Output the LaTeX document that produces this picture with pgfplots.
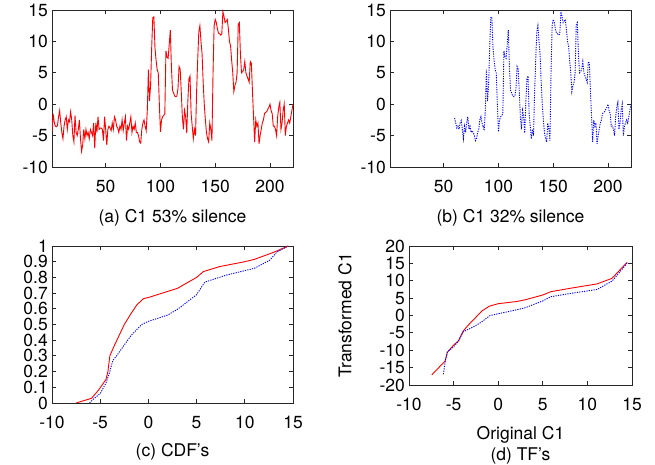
\documentclass[border=0pt]{standalone}
\usepackage{fontspec}
\setmainfont{TeX Gyre Heros}
\usepackage{pgfplots}
\usepackage{pgfplotstable}
\pgfplotsset{compat=1.18}

\pgfplotstableread{
x y
1 -4.4
2 -1.5
3 -2.8
4 -3.5
5 -3.6
6 -3.4
7 -2.0
8 -1.0
9 -3.0
10 -4.5
11 -5.5
12 -3.5
13 -2.5
14 -2.0
15 -4.0
16 -2.5
17 -2.8
18 -1.2
19 -2.5
20 -5.0
21 -6.0
22 -1.8
23 -4.5
24 -5.0
25 -4.0
26 -2.5
27 -5.5
28 -7.5
29 -6.5
30 -4.0
31 -5.5
32 -4.0
33 -5.0
34 -4.5
35 -5.5
36 -4.0
37 -4.5
38 -5.0
39 -3.0
40 -7.0
41 -3.0
42 -4.5
43 -2.0
44 -4.0
45 -3.8
46 -3.8
47 -4.0
48 -5.8
49 -2.0
50 -4.0
51 -6.5
52 -4.0
53 -3.5
54 -3.8
55 -4.2
56 -3.0
57 -4.0
58 -2.0
59 -2.5
60 -3.5
61 -3.8
62 -4.5
63 -3.5
64 -4.0
65 -2.5
66 -4.2
67 -3.0
68 -2.0
69 -5.8
70 -3.5
71 -4.0
72 -3.0
73 -2.0
74 -4.5
75 -3.5
76 -4.0
77 -3.0
78 -4.5
79 -4.5
80 -5.0
81 -6.0
82 -6.2
83 -4.0
84 -3.0
85 -2.5
86 -3.5
87 -4.2
88 -1.0
89 5.5
90 0.5
91 3.0
92 9.0
93 13.8
94 13.9
95 9.0
96 7.0
97 5.5
98 5.0
99 0.0
100 -4.4
101 -2.5
102 -2.0
103 -1.8
104 -1.5
105 8.5
106 7.5
107 7.3
108 9.5
109 11.8
110 6.0
111 2.2
112 1.8
113 1.3
114 1.2
115 1.3
116 2.5
117 6.0
118 5.6
119 2.0
120 -2.0
121 -4.0
122 -1.0
123 -2.0
124 -4.6
125 0.5
126 4.0
127 4.5
128 -1.5
129 -3.5
130 -5.5
131 -4.0
132 -5.0
133 2.0
134 7.0
135 11.5
136 12.5
137 10.0
138 8.0
139 3.5
140 0.0
141 -2.5
142 -4.5
143 -5.5
144 -6.0
145 -3.0
146 -4.0
147 -5.8
148 5.0
149 12.5
150 13.5
151 13.0
152 12.0
153 11.3
154 11.2
155 11.0
156 11.2
157 14.7
158 14.0
159 13.0
160 13.2
161 13.5
162 12.0
163 10.0
164 9.3
165 7.0
166 5.0
167 2.0
168 3.0
169 3.5
170 5.0
171 12.7
172 13.0
173 8.0
174 5.0
175 5.2
176 5.5
177 6.8
178 5.0
179 4.5
180 4.0
181 3.5
182 6.8
183 6.5
184 2.0
185 -2.0
186 -6.0
187 -2.5
188 -3.5
189 -3.0
190 -6.3
191 -5.0
192 -4.0
193 -3.0
194 -2.5
195 -1.5
196 -1.3
197 -1.2
198 -0.8
199 -0.5
200 0.0
201 -1.0
202 -1.5
203 -3.5
204 -3.5
205 -4.0
206 -5.0
207 -2.0
208 -0.5
209 0.3
210 -4.0
211 -3.0
212 -1.0
213 0.0
214 -5.0
215 -3.5
216 -3.0
217 -2.5
218 -3.0
219 -2.0
220 -1.0
221 0.0
}\dataA

\pgfplotstableread{
x y
60 -2.2
61 -3.0
62 -3.8
63 -3.5
64 -4.0
65 -3.0
66 -2.6
67 -4.0
68 -5.5
69 -3.5
70 -4.5
71 -3.0
72 -2.0
73 -4.0
74 -3.5
75 -4.5
76 -4.2
77 -4.5
78 -5.0
79 -5.8
80 -5.5
81 -4.5
82 -4.0
83 -2.5
84 -2.0
85 -3.0
86 -3.5
}\dataBstart

\pgfplotstableread{
x y
-7.5 0
-5.9 0.03
-5.2 0.08
-4.4 0.15
-4.2 0.2
-4.0 0.3
-3.5 0.37
-2.5 0.5
-1.8 0.57
-1.2 0.625
-0.5 0.665
0 0.672
3.0 0.73
5.0 0.80
5.7 0.837
7.4 0.869
10.0 0.90
11.0 0.915
13.0 0.96
14.5 1.0
}\cdfA

\pgfplotstableread{
x y
-6.1 0
-5.8 0.02
-5.0 0.06
-4.4 0.127
-4.0 0.2
-3.7 0.27
-3.3 0.3
-2.5 0.37
-1.8 0.43
-0.7 0.5
0 0.52
2.0 0.56
3.1 0.60
5.0 0.69
5.85 0.77
8.1 0.815
10.0 0.843
11.0 0.858
12.6 0.91
13.3 0.96
14.5 1.0
}\cdfB

\pgfplotstableread{
x y
-7.45 -17.1
-5.95 -13.1
-5.7 -10.6
-5.0 -8.5
-4.45 -7.3
-3.97 -4.65
-3.44 -3.0
-2.5 -0.5
-1.83 1.3
-0.97 2.7
0 3.4
2.0 4.0
3.0 4.5
5.0 5.9
5.9 6.85
8.0 7.8
11.1 9.1
12.76 10.7
14.45 15.3
}\tfA

\pgfplotstableread{
x y
-6.14 -16.9
-5.95 -13.3
-5.7 -10.5
-5.0 -9.0
-4.5 -7.5
-3.9 -4.65
-2.96 -3.5
-2.0 -2.1
-0.9 0
0 0.5
2.0 1.6
3.0 2.2
5.0 4.2
5.9 5.4
8.0 6.3
11.1 7.5
12.76 9.9
14.45 15.0
}\tfB

\begin{document}
\fontsize{17.5}{21}\selectfont
\begin{tikzpicture}
\path (0,0) rectangle (655pt,465pt);
\pgfplotsset{
  every axis/.append style={
    scale only axis, anchor=north west,
    tick align=inside, major tick length=4pt,
    axis line style={draw=black!85, line width=0.8pt},
    every tick/.style={black!85, line width=0.8pt},
    /pgf/number format/assume math mode=true,
    /pgf/number format/fixed,
    tick label style={font=\fontsize{17.5}{19}\selectfont},
    label style={font=\fontsize{17.5}{21}\selectfont},
    yticklabel style={anchor=east, inner sep=0pt, xshift=-4pt},
    xticklabel style={anchor=north, inner sep=0pt, yshift=-13pt},
    xlabel style={at={(axis description cs:0.5,0)}, anchor=north, inner sep=0pt, align=center},
  },
  redline/.style={red, line width=0.9pt},
  blueline/.style={blue, line width=0.9pt, dash pattern=on 1.2pt off 1.2pt},
}
% (a)
\begin{axis}[at={(52pt,455pt)}, width=241pt, height=157pt,
  xmin=1, xmax=221, ymin=-10, ymax=15,
  xtick={50,100,150,200}, ytick={-10,-5,0,5,10,15},
  xlabel={(a) C1 53\% silence}, xlabel style={yshift=-42pt}]
\addplot[redline] table[x=x,y=y] {\dataA};
\end{axis}
% (b)
\begin{axis}[at={(390pt,455pt)}, width=241pt, height=157pt,
  xmin=1, xmax=221, ymin=-10, ymax=15,
  xtick={50,100,150,200}, ytick={-10,-5,0,5,10,15},
  xlabel={(b) C1 32\% silence}, xlabel style={yshift=-42pt}]
\addplot[blueline] table[x=x,y=y] {\dataBstart};
\addplot[blueline, restrict x to domain=86:221] table[x=x,y=y] {\dataA};
\end{axis}
% (c)
\begin{axis}[at={(52pt,219pt)}, width=241pt, height=157pt,
  xmin=-10, xmax=15, ymin=0, ymax=1,
  xtick={-10,-5,0,5,10,15}, ytick={0,0.1,...,1.0},
  yticklabels={0,0.1,0.2,0.3,0.4,0.5,0.6,0.7,0.8,0.9,1},
  xlabel={(c) CDF's}, xlabel style={yshift=-40pt}]
\addplot[redline] table[x=x,y=y] {\cdfA};
\addplot[blueline] table[x=x,y=y] {\cdfB};
\end{axis}
% (d)
\begin{axis}[at={(409pt,219pt)}, width=223pt, height=139pt,
  xmin=-10, xmax=15, ymin=-20, ymax=20,
  xtick={-10,-5,0,5,10,15}, ytick={-20,-15,...,20},
  xlabel={Original C1\\(d) TF's}, xlabel style={yshift=-41pt},
  ylabel={Transformed C1},
  ylabel style={at={(axis description cs:-0.287,0.5)}, anchor=center, rotate=0}]
\addplot[redline] table[x=x,y=y] {\tfA};
\addplot[blueline] table[x=x,y=y] {\tfB};
\end{axis}
\end{tikzpicture}
\end{document}
